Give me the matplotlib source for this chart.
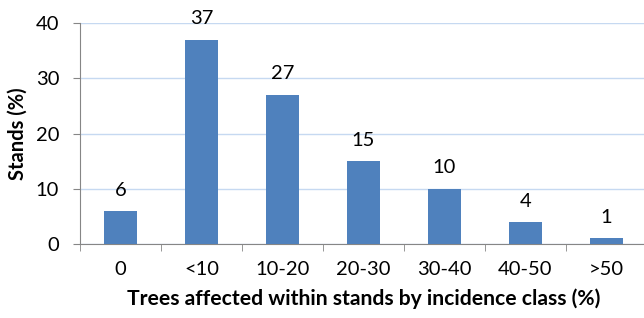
import numpy as np
import matplotlib.pyplot as plt
from matplotlib.ticker import FixedLocator

categories = ["0", "<10", "10-20", "20-30", "30-40", "40-50", ">50"]
stands_pct = [6, 37, 27, 15, 10, 4, 1]
yticks = [0, 10, 20, 30, 40]

plt.rcParams['font.family'] = ['Lato', 'DejaVu Sans']
fs = 14.5

fig = plt.figure(figsize=(6.44, 3.18), dpi=100)
ax = fig.add_axes([80 / 644, 74 / 318, 567 / 644, 221 / 318])

x = np.arange(len(categories))
ax.bar(x, stands_pct, width=0.4, color="#4F81BD", zorder=3)
for xi, v in zip(x, stands_pct):
    ax.annotate(str(v), (xi, v), xytext=(0, 15), textcoords="offset points",
                ha="center", va="center", fontsize=fs)

ax.set_xlim(-0.5, len(categories) - 0.5)
ax.set_ylim(0, 40)
ax.set_yticks(yticks)
ax.set_xticks(x)
ax.set_xticklabels(categories, fontsize=fs)
ax.tick_params(axis="y", labelsize=fs, length=5, color="#868686", pad=10)
ax.tick_params(axis="x", which="major", length=0, pad=12)
ax.xaxis.set_minor_locator(FixedLocator(np.arange(-0.5, len(categories), 1.0)))
ax.tick_params(axis="x", which="minor", length=5, color="#868686")
ax.grid(axis="y", color="#C6D9F1", linewidth=1, zorder=0)

for s in ["top", "right"]:
    ax.spines[s].set_visible(False)
for s in ["left", "bottom"]:
    ax.spines[s].set_color("#868686")

ax.set_ylabel("Stands (%)", fontsize=14.5, fontweight="bold", labelpad=6)
ax.set_xlabel("Trees affected within stands by incidence class (%)",
              fontsize=15.2, fontweight="bold", labelpad=8)

plt.savefig("out.png", dpi=100)
